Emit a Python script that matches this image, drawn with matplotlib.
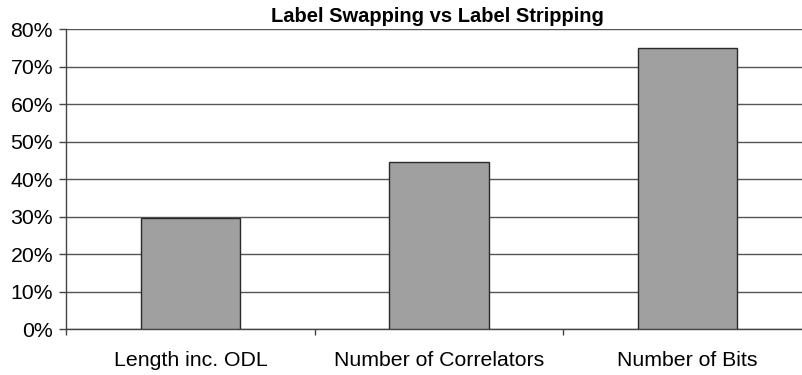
import matplotlib.pyplot as plt
from matplotlib.ticker import PercentFormatter, FixedLocator, NullFormatter
import numpy as np

plt.rcParams['font.family'] = ['Liberation Sans', 'DejaVu Sans']

categories = ['Length inc. ODL', 'Number of Correlators', 'Number of Bits']
improvement = [29.7, 44.6, 75.0]   # percent
yticks = [0, 10, 20, 30, 40, 50, 60, 70, 80]

W, H = 802, 375
fig = plt.figure(figsize=(W / 100, H / 100), dpi=100)
ax = fig.add_axes([66.3 / W, 1 - 329.3 / H, (811.5 - 66.3) / W, (329.3 - 29.3) / H])

x = np.arange(len(categories))
ax.bar(x, improvement, width=0.4, color='#a0a0a0', edgecolor='#2a2a2a',
       linewidth=1.0, zorder=3)

ax.set_xlim(-0.5, len(categories) - 0.5)
ax.set_ylim(0, 80)
ax.set_yticks(yticks)
ax.yaxis.set_major_formatter(PercentFormatter(decimals=0))
ax.yaxis.grid(True, color='#555555', linewidth=1.0, zorder=0)

# category labels centred under bars, ticks between categories
ax.set_xticks(x)
ax.set_xticklabels(categories)
ax.tick_params(axis='x', which='major', length=0, pad=15.5, labelsize=15.3)
ax.xaxis.set_minor_locator(FixedLocator(np.arange(len(categories) + 1) - 0.5))
ax.xaxis.set_minor_formatter(NullFormatter())
ax.tick_params(axis='x', which='minor', length=4.5, width=1.0, color='#444444')
ax.tick_params(axis='y', length=5, width=1.0, color='#444444', pad=4.5, labelsize=15.3)

for side in ['top', 'right']:
    ax.spines[side].set_visible(False)
for side in ['left', 'bottom']:
    ax.spines[side].set_color('#444444')
    ax.spines[side].set_linewidth(1.0)

fig.text(437.5 / W, 1 - 21.5 / H, 'Label Swapping vs Label Stripping',
         ha='center', va='baseline', fontsize=14.5, fontweight='bold')

fig.savefig('out.png', dpi=100)
